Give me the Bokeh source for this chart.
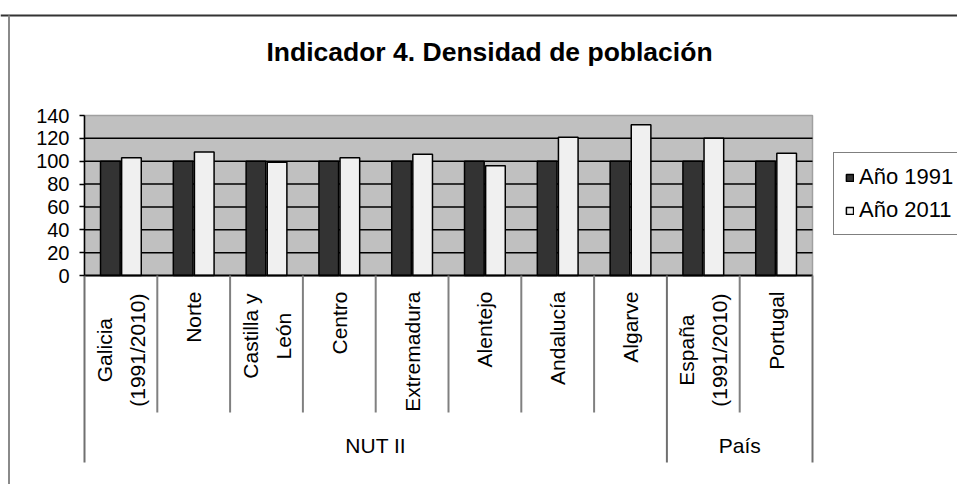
import math
from bokeh.plotting import figure
from bokeh.models import (ColumnDataSource, LinearAxis, FixedTicker, Range1d,
                          Legend, LegendItem)
from bokeh.core.properties import value
from bokeh.embed import file_html
from bokeh.resources import INLINE

# ---------------- data ----------------
categories = ["Galicia\n(1991/2010)", "Norte", "Castilla y\nLeón", "Centro",
              "Extremadura", "Alentejo", "Andalucía", "Algarve",
              "España\n(1991/2010)", "Portugal"]
groups = ["NUT II"] * 8 + ["País"] * 2
year_1991 = [100, 100, 100, 100, 100, 100, 100, 100, 100, 100]
year_2011 = [103, 108, 99, 103, 106, 96, 121, 132, 120, 107]
y_ticks = [0, 20, 40, 60, 80, 100, 120, 140]
series_names = ["Año 1991", "Año 2011"]
title_text = "Indicador 4. Densidad de población"

# ---------------- layout helpers ----------------
FONT = "Liberation Sans"
W, H = 957, 484
X0_PX = 84         # x of category area left
X1_PX = 812        # x of category area right
Y0_PX = 275        # y of value 0
Y1_PX = 115        # y of value 140
n = len(categories)
KX = (X1_PX - X0_PX) / n
KY = (Y0_PX - Y1_PX) / (y_ticks[-1] - y_ticks[0])


def xd(px):
    return (px - X0_PX) / KX


def yd(py):
    return (Y0_PX - py) / KY


# Arial / Liberation Sans advance widths (em/1000)
WID = {" ": 278, "(": 333, ")": 333, "/": 278, "C": 722, "E": 667, "G": 778,
       "L": 556, "a": 556, "c": 500, "e": 556, "i": 222, "l": 222, "n": 556,
       "ñ": 556, "ó": 556, "p": 556, "s": 500, "t": 278, "y": 500}


def text_w(s, size):
    return sum(WID.get(ch, 556) for ch in s) / 1000.0 * size


p = figure(width=W, height=H, output_backend="svg", toolbar_location=None,
           title=None,
           x_range=Range1d(xd(0), xd(W)),
           y_range=Range1d(yd(H), yd(0)),
           x_axis_location=None, y_axis_location=None,
           min_border_left=0, min_border_right=0,
           min_border_top=0, min_border_bottom=0)
p.grid.visible = False
p.outline_line_color = None
p.background_fill_color = "white"
p.border_fill_color = "white"

# chart-area border (left and top, the rest runs off the picture)
p.segment(x0=[xd(0)], x1=[xd(W + 5)], y0=[yd(15)], y1=[yd(15)],
          line_color="#333333", line_width=2)
p.segment(x0=[xd(8.5)], x1=[xd(8.5)], y0=[yd(15)], y1=[yd(H + 5)],
          line_color="#8a8a8a", line_width=2)

# plot area background
p.quad(left=0, right=n, bottom=y_ticks[0], top=y_ticks[-1],
       fill_color="#c0c0c0", line_color="#a0a0a0", line_width=1.5)

# gridlines
grid_vals = y_ticks[1:-1]
p.segment(x0=[0] * len(grid_vals), x1=[n] * len(grid_vals),
          y0=grid_vals, y1=grid_vals, line_color="black", line_width=1.5)

# bars
xs = [i + 0.5 for i in range(n)]
src = ColumnDataSource(dict(x1=[x - 0.145 for x in xs],
                            x2=[x + 0.145 for x in xs],
                            a=year_1991, b=year_2011))
r1 = p.vbar(x="x1", top="a", bottom=0, width=0.27, source=src,
            fill_color="#333333", line_color="black", line_width=1.5)
r2 = p.vbar(x="x2", top="b", bottom=0, width=0.27, source=src,
            fill_color="#f0f0f0", line_color="black", line_width=1.5)

# x axis line
p.segment(x0=[0], x1=[n], y0=[0], y1=[0], line_color="black", line_width=2)

# y axis (fixed at the left edge of the category area)
yaxis = LinearAxis(ticker=FixedTicker(ticks=y_ticks),
                   bounds=(y_ticks[0], y_ticks[-1]), fixed_location=0)
yaxis.axis_line_color = "black"
yaxis.axis_line_width = 1.5
yaxis.major_tick_line_color = "black"
yaxis.major_tick_line_width = 1.5
yaxis.major_tick_out = 5
yaxis.major_tick_in = 0
yaxis.minor_tick_line_color = None
yaxis.major_label_text_font = FONT
yaxis.major_label_text_font_size = "20px"
yaxis.major_label_text_color = "black"
yaxis.major_label_standoff = 10
p.add_layout(yaxis, "left")

# category separators
inner_b, outer_b = [], [0, n]
for i in range(1, n):
    if groups[i] != groups[i - 1]:
        outer_b.append(i)
    else:
        inner_b.append(i)
p.segment(x0=inner_b, x1=inner_b, y0=[0] * len(inner_b),
          y1=[yd(412)] * len(inner_b), line_color="#808080", line_width=2)
p.segment(x0=outer_b, x1=outer_b, y0=[0] * len(outer_b),
          y1=[yd(462)] * len(outer_b), line_color="#707070", line_width=2)

# category labels (rotated)
CAT_FS = 21
s_x, s_y, s_t = [], [], []
m_x, m_y, m_t = [], [], []
for i, cat in enumerate(categories):
    lines = cat.split("\n")
    if len(lines) == 1:
        s_x.append(i + 0.5)
        s_y.append(yd(291))
        s_t.append(cat)
    else:
        L = max(text_w(s, CAT_FS) for s in lines)
        cy = yd(293 + L / 2)
        k = len(lines)
        for j, s in enumerate(lines):
            m_x.append(i + 0.5 + (j - (k - 1) / 2) * 33 / KX)
            m_y.append(cy)
            m_t.append(s)
p.text(x=s_x, y=s_y, text=s_t, angle=math.pi / 2, text_align="right",
       text_baseline="middle", text_font=value(FONT),
       text_font_size=f"{CAT_FS}px", text_color="black")
p.text(x=m_x, y=m_y, text=m_t, angle=math.pi / 2, text_align="center",
       text_baseline="middle", text_font=value(FONT),
       text_font_size=f"{CAT_FS}px", text_color="black")

# group labels
g_names, g_x = [], []
start = 0
for i in range(1, n + 1):
    if i == n or groups[i] != groups[start]:
        g_names.append(groups[start])
        g_x.append((start + i) / 2)
        start = i
p.text(x=g_x, y=[yd(445)] * len(g_x), text=g_names, text_align="center",
       text_baseline="middle", text_font=value(FONT),
       text_font_size="21px", text_color="black")

# title
p.text(x=[xd(489)], y=[yd(51)], text=[title_text], text_align="center",
       text_baseline="alphabetic", text_font=value(FONT),
       text_font_size="26.5px", text_font_style="bold", text_color="black")

# legend
legend = Legend(items=[LegendItem(label=series_names[0], renderers=[r1]),
                       LegendItem(label=series_names[1], renderers=[r2])],
                location=(833, H - 235))
legend.label_text_font = FONT
legend.label_text_font_size = "22px"
legend.label_text_color = "black"
legend.glyph_width = 9
legend.glyph_height = 9
legend.label_height = 25
legend.spacing = 7
legend.padding = 11
legend.margin = 0
legend.label_standoff = 5
legend.border_line_color = "black"
legend.border_line_width = 1.5
legend.background_fill_color = "white"
legend.background_fill_alpha = 1
p.add_layout(legend)

open("out.html", "w").write(file_html(p, INLINE))
